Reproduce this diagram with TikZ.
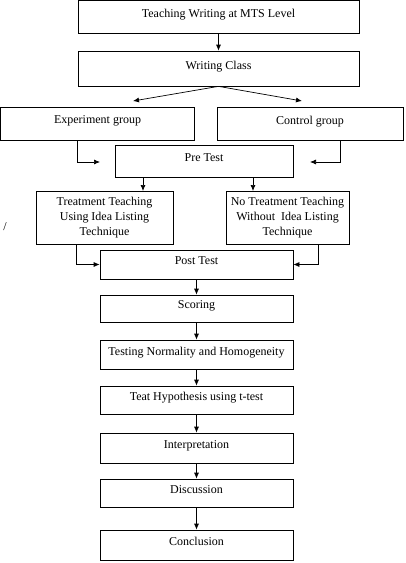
\documentclass[tikz,border=0pt]{standalone}
\usepackage{fontspec}
\setmainfont{Liberation Serif}
\usetikzlibrary{arrows.meta}

\begin{document}
\begin{tikzpicture}[
x=1pt, y=-1pt,
line width=0.7pt,
every node/.style={font=\fontsize{12}{15}\selectfont},
box/.style={draw, rectangle, inner sep=2pt, text depth=7pt},
multibox/.style={draw, rectangle, inner sep=2pt, align=center},
arr/.style={-{Latex[length=6pt,width=5pt]}}
]
\useasboundingbox (0,0) rectangle (406,563);

\path
(218.5,16.9) node[box, minimum width=281pt, minimum height=32.5pt] (teach) {Teaching Writing at MTS Level}
(218.5,68.5) node[box, minimum width=281pt, minimum height=35pt] (class) {Writing Class}
(97.5,123.5) node[box, minimum width=193.5pt, minimum height=33pt] (exp) {Experiment group}
(310,123.5) node[box, minimum width=186pt, minimum height=33pt] (ctrl) {Control group}
(204,161) node[box, minimum width=178pt, minimum height=32pt] (pre) {Pre Test}
(104.5,217.5) node[multibox, minimum width=137pt, minimum height=53pt] (treat) {Treatment Teaching\\Using Idea Listing\\Technique}
(287.5,217.5) node[multibox, minimum width=123pt, minimum height=53pt] (notreat) {No Treatment Teaching\\Without \ Idea Listing\\Technique}
(196.5,264.5) node[box, minimum width=193pt, minimum height=29pt] (post) {Post Test}
(196.5,308.5) node[box, minimum width=193pt, minimum height=27pt] (score) {Scoring}
(196.5,354.5) node[box, minimum width=193pt, minimum height=29pt] (norm) {Testing Normality and Homogeneity}
(196.5,400) node[box, minimum width=193pt, minimum height=28pt] (hypo) {Teat Hypothesis using t-test}
(196.5,448) node[box, minimum width=193pt, minimum height=30pt] (interp) {Interpretation}
(196.5,493) node[box, minimum width=193pt, minimum height=28pt] (disc) {Discussion}
(196.5,545) node[box, minimum width=193pt, minimum height=30pt] (concl) {Conclusion}
(5,227) node (slash) {/}
;

\coordinate (expTip) at (133,101);
\coordinate (ctrlTip) at (302,101);
\coordinate (preL) at (100,162);
\coordinate (preR) at (310,162);
\coordinate (treatIn) at (143,191);
\coordinate (notreatIn) at (253,191);

\draw[arr] (teach) -- (class);
\draw[arr] (class.south) -- (expTip);
\draw[arr] (class.south) -- (ctrlTip);
\draw[arr] ([xshift=76.5pt]exp.south west) |- (preL);
\draw[arr] ([xshift=-63pt]ctrl.south east) |- (preR);
\draw[arr] (pre.south -| treatIn) -- (treatIn);
\draw[arr] (pre.south -| notreatIn) -- (notreatIn);
\draw[arr] ([xshift=41pt]treat.south west) |- (post.west);
\draw[arr] ([xshift=-31pt]notreat.south east) |- (post.east);

\foreach \a/\b in {post/score, score/norm, norm/hypo, hypo/interp, interp/disc, disc/concl}
    \draw[arr] (\a) -- (\b);

\end{tikzpicture}
\end{document}
